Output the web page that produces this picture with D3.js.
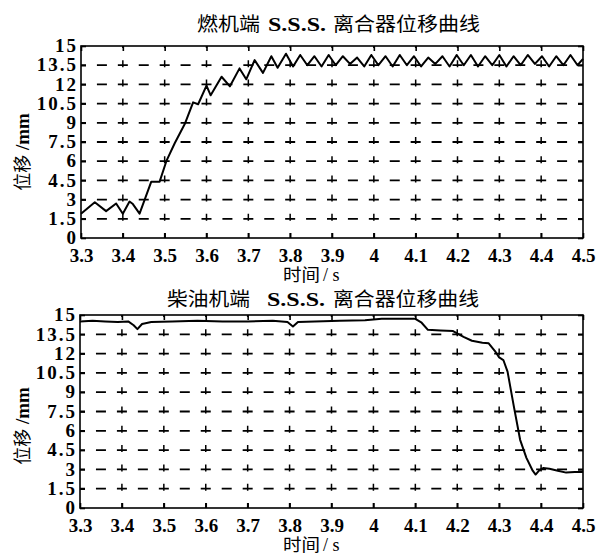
<!DOCTYPE html>
<html><head><meta charset="utf-8">
<script src="https://cdn.jsdelivr.net/npm/d3@7"></script>
<style>
body{margin:0;background:#fff;}
svg{display:block;}
</style></head>
<body>
<svg id="chart" width="601" height="557"></svg>
<script>
// ---------- data ----------
const xTicks = [3.3,3.4,3.5,3.6,3.7,3.8,3.9,4.0,4.1,4.2,4.3,4.4,4.5];
const xTickLabels = ["3.3","3.4","3.5","3.6","3.7","3.8","3.9","4","4.1","4.2","4.3","4.4","4.5"];
const yTicks = [0,1.5,3,4.5,6,7.5,9,10.5,12,13.5,15];
const yTickLabels = ["0","1.5","3","4.5","6","7.5","9","10.5","12","13.5","15"];

const topTime = [3.300,3.333,3.360,3.384,3.400,3.416,3.424,3.440,3.468,3.488,3.504,3.524,3.548,3.568,3.580,3.600,3.610,3.636,3.656,3.679,3.695,3.715,3.735,3.755,3.770,3.790,
  3.807,3.824,3.841,3.858,3.875,3.892,3.909,3.926,3.943,3.960,3.977,3.994,4.011,4.028,4.045,4.062,4.079,4.096,4.113,4.130,4.147,4.164,4.181,4.198,4.215,4.232,4.249,4.266,4.283,4.300,4.317,4.334,4.351,4.368,4.385,4.402,4.419,4.436,4.453,4.470,4.487,4.500];
const topDisp = [1.9,2.8,2.1,2.7,1.9,2.85,2.65,1.9,4.4,4.4,6.0,7.4,8.9,10.6,10.45,11.9,11.15,12.6,11.85,13.25,12.4,13.9,12.9,14.2,13.3,14.4,
  13.4,14.3,13.5,14.2,13.4,14.3,13.5,14.2,13.6,14.1,13.4,14.3,13.5,14.2,13.4,14.3,13.5,14.2,13.4,14.1,13.6,14.2,13.4,14.3,13.5,14.3,13.4,14.2,13.5,14.3,13.4,14.2,13.5,14.3,13.6,14.2,13.4,14.2,13.5,14.3,13.5,14.0];

const botTime = [3.300,3.330,3.360,3.390,3.415,3.428,3.437,3.448,3.470,3.520,3.580,3.640,3.700,3.760,3.795,3.808,3.820,3.860,3.920,3.980,4.020,4.060,4.100,4.115,4.130,4.160,4.190,4.215,4.235,4.260,4.275,4.290,4.300,4.310,4.320,4.335,4.350,4.365,4.380,4.387,4.395,4.405,4.420,4.440,4.460,4.480,4.500];
const botDisp = [14.5,14.55,14.5,14.45,14.5,14.2,13.9,14.3,14.45,14.5,14.55,14.5,14.5,14.55,14.45,14.1,14.45,14.5,14.55,14.6,14.7,14.7,14.7,14.4,13.85,13.8,13.75,13.3,13.0,12.85,12.8,12.2,11.7,11.5,10.6,7.9,5.3,3.9,2.9,2.6,2.9,3.1,3.05,2.9,2.75,2.8,2.8];

const panels = [
  {title:[["燃机端",197,63,"cjk"],["S.S.S.",268,58,"serif"],["离合器位移曲线",333,147,"cjk"]], titleY:31,
   left:81, right:583, top:46, bottom:238, t:topTime, v:topDisp,
   xlabY:281, ylabY:152, tickY:262},
  {title:[["柴油机端",167,83,"cjk"],["S.S.S.",267,58,"serif"],["离合器位移曲线",333,146,"cjk"]], titleY:306,
   left:80, right:583, top:315, bottom:508, t:botTime, v:botDisp,
   xlabY:551, ylabY:426, tickY:532}
];

const svg = d3.select("#chart");
const serif = "'Liberation Serif','Times New Roman',serif";
const cjk = "'Noto Sans CJK SC','Noto Sans CJK JP',sans-serif";

panels.forEach(p => {
  const x = d3.scaleLinear().domain([3.3,4.5]).range([p.left,p.right]);
  const y = d3.scaleLinear().domain([0,15]).range([p.bottom,p.top]);
  const g = svg.append("g");
  const W = p.right - p.left, H = p.bottom - p.top;
  const hPeriod = (x(3.4)-x(3.3))/2;
  const vPeriod = y(0)-y(1.5);

  // horizontal dashed grid
  g.selectAll(".hg").data(yTicks.slice(1,-1)).join("line")
    .attr("x1",p.left).attr("x2",p.right)
    .attr("y1",d=>y(d)).attr("y2",d=>y(d))
    .attr("stroke","#000").attr("stroke-width",1.8)
    .attr("stroke-dasharray",`10 ${hPeriod-10}`).attr("stroke-dashoffset",5);
  // vertical dashed grid
  g.selectAll(".vg").data(xTicks.slice(1,-1)).join("line")
    .attr("x1",d=>x(d)).attr("x2",d=>x(d))
    .attr("y1",p.top).attr("y2",p.bottom)
    .attr("stroke","#000").attr("stroke-width",1.5)
    .attr("stroke-dasharray",`7 ${vPeriod-7}`).attr("stroke-dashoffset",5);

  // axes (inward ticks)
  const fmtX = d => xTickLabels[xTicks.indexOf(d)];
  const fmtY = d => yTickLabels[yTicks.indexOf(d)];
  const axB = g.append("g").attr("transform",`translate(0,${p.bottom})`)
    .call(d3.axisBottom(x).tickValues(xTicks).tickFormat(fmtX).tickSizeInner(-5).tickSizeOuter(0));
  const axT = g.append("g").attr("transform",`translate(0,${p.top})`)
    .call(d3.axisTop(x).tickValues(xTicks).tickFormat("").tickSizeInner(-5).tickSizeOuter(0));
  const axL = g.append("g").attr("transform",`translate(${p.left},0)`)
    .call(d3.axisLeft(y).tickValues(yTicks).tickFormat(fmtY).tickSizeInner(-5).tickSizeOuter(0));
  const axR = g.append("g").attr("transform",`translate(${p.right},0)`)
    .call(d3.axisRight(y).tickValues(yTicks).tickFormat("").tickSizeInner(-5).tickSizeOuter(0));
  [axB,axT,axL,axR].forEach(a=>{
    a.select(".domain").remove();
    a.selectAll(".tick line").attr("stroke","#000").attr("stroke-width",1.6);
  });
  axB.selectAll(".tick text").attr("font-family",serif).attr("font-weight","bold")
    .attr("font-size",19).attr("fill","#000").attr("dy",null)
    .attr("y",p.tickY-p.bottom);
  axL.selectAll(".tick text").attr("font-family",serif).attr("font-weight","bold")
    .attr("font-size",19).attr("fill","#000").attr("x",-3).attr("dy","0.3em")
    .attr("letter-spacing",2);

  // frame
  g.append("rect").attr("x",p.left).attr("y",p.top).attr("width",W).attr("height",H)
    .attr("fill","none").attr("stroke","#000").attr("stroke-width",1.6);

  // curve
  const pts = p.t.map((t,i)=>[t,p.v[i]]);
  g.append("path").datum(pts)
    .attr("d",d3.line().x(d=>x(d[0])).y(d=>y(d[1])))
    .attr("fill","none").attr("stroke","#000").attr("stroke-width",2).attr("stroke-linejoin","round");

  // title
  p.title.forEach(([txt,tx,len,kind])=>{
    g.append("text").attr("x",tx).attr("y",p.titleY).attr("fill","#000")
      .attr("font-family",kind==="cjk"?cjk:serif)
      .attr("font-weight",kind==="cjk"?"normal":"bold")
      .attr("font-size",19)
      .attr("textLength",len).attr("lengthAdjust","spacingAndGlyphs")
      .text(txt);
  });

  // x label
  g.append("text").attr("x",283).attr("y",p.xlabY).attr("fill","#000")
    .attr("font-family",cjk).attr("font-size",17)
    .attr("textLength",37).attr("lengthAdjust","spacingAndGlyphs").text("时间");
  g.append("text").attr("x",323).attr("y",p.xlabY).attr("fill","#000")
    .attr("font-family",serif).attr("font-size",18).text("/ s");

  // y label
  const yl = g.append("text").attr("transform",`translate(29,${p.ylabY}) rotate(-90)`)
    .attr("text-anchor","middle").attr("fill","#000");
  yl.append("tspan").attr("font-family",cjk).attr("font-size",18).text("位移");
  yl.append("tspan").attr("font-family",serif).attr("font-weight","bold").attr("font-size",19).text(" /mm");
});
</script>
</body></html>
